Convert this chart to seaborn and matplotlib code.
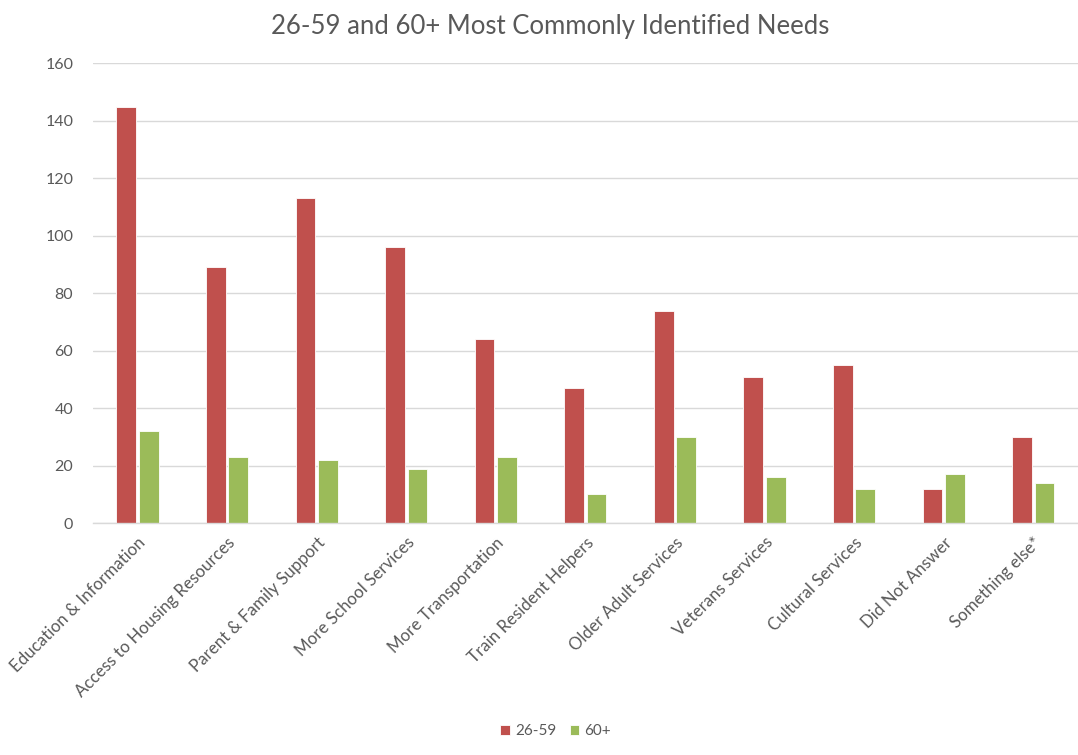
import matplotlib
matplotlib.use("Agg")
import matplotlib.pyplot as plt
import seaborn as sns
import pandas as pd

categories = [
    "Education & Information", "Access to Housing Resources", "Parent & Family Support",
    "More School Services", "More Transportation", "Train Resident Helpers",
    "Older Adult Services", "Veterans Services", "Cultural Services",
    "Did Not Answer", "Something else*",
]
ages_26_59 = [145, 89, 113, 96, 64, 47, 74, 51, 55, 12, 30]
ages_60_plus = [32, 23, 22, 19, 23, 10, 30, 16, 12, 17, 14]
series_names = ["26-59", "60+"]
y_ticks = [0, 20, 40, 60, 80, 100, 120, 140, 160]

df = pd.DataFrame({
    "need": categories * 2,
    "count": ages_26_59 + ages_60_plus,
    "group": [series_names[0]] * len(categories) + [series_names[1]] * len(categories),
})

sns.set_style("white")
plt.rcParams["font.family"] = ["Lato", "DejaVu Sans"]

fig = plt.figure(figsize=(10.78, 7.55), dpi=100)
ax = fig.add_axes([0.086, 0.307, 0.914, 0.609])

sns.barplot(
    data=df, x="need", y="count", hue="group", order=categories,
    hue_order=series_names, palette=["#C0504D", "#9BBB59"], saturation=1,
    width=0.50, gap=0.12, edgecolor="white", linewidth=0.6,
    ax=ax, legend=True,
)

ax.set_ylim(0, 160)
ax.set_yticks(y_ticks)
ax.set_xlim(-0.5, len(categories) - 0.5)
ax.yaxis.grid(True, color="#D9D9D9", linewidth=1.0)
ax.set_axisbelow(True)
for side in ["top", "right", "left"]:
    ax.spines[side].set_visible(False)
ax.spines["bottom"].set_color("#D9D9D9")
ax.spines["bottom"].set_linewidth(1.0)
ax.tick_params(axis="both", length=0, colors="#595959", labelsize=11.5)
ax.tick_params(axis="y", pad=14)
ax.tick_params(axis="x", pad=8)
ax.set_xlabel("")
ax.set_ylabel("")
plt.setp(ax.get_xticklabels(), rotation=45, ha="right", rotation_mode="anchor", fontsize=12.2)

fig.suptitle("26-59 and 60+ Most Commonly Identified Needs", x=0.51, y=0.982,
             fontsize=18.5, color="#595959")

leg = ax.legend(loc="center", bbox_to_anchor=(0.470, -0.452), ncol=2, frameon=False,
                fontsize=11, handlelength=0.6, handleheight=0.6, columnspacing=0.9,
                handletextpad=0.35)
for t in leg.get_texts():
    t.set_color("#595959")

fig.savefig("out.png", dpi=100, facecolor="white")
